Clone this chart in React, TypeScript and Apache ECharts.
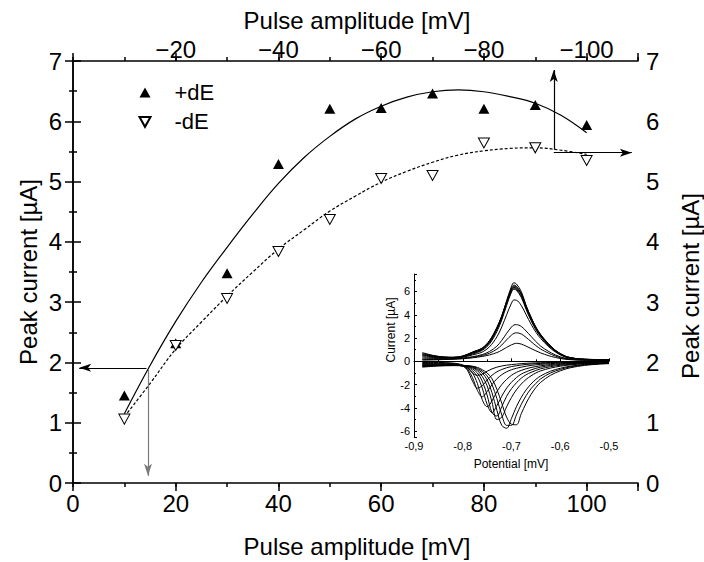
import React, { useEffect, useRef } from 'react';
import * as echarts from 'echarts';

// ---------- main chart data ----------
const AMPLITUDE = [10, 20, 30, 40, 50, 60, 70, 80, 90, 100];
const PLUS_DE = [1.45, 2.32, 3.48, 5.29, 6.21, 6.22, 6.46, 6.21, 6.27, 5.94];
const MINUS_DE = [1.06, 2.28, 3.06, 3.84, 4.37, 5.05, 5.1, 5.64, 5.56, 5.35];

const FIT_X = [10, 15, 20, 25, 30, 35, 40, 45, 50, 55, 60, 65, 70, 75, 80, 85, 90, 95, 100];
const FIT_PLUS = [1.15, 1.95, 2.68, 3.33, 3.91, 4.46, 4.97, 5.4, 5.75, 6.04, 6.25, 6.4, 6.49, 6.52, 6.49, 6.41, 6.3, 6.1, 5.81];
const FIT_MINUS = [1.1, 1.65, 2.22, 2.67, 3.1, 3.5, 3.88, 4.2, 4.51, 4.76, 4.99, 5.17, 5.32, 5.44, 5.51, 5.55, 5.56, 5.52, 5.45];

const X_TICKS_MAJOR = [0, 20, 40, 60, 80, 100];
const TOP_TICK_LABELS = ['\u221220', '\u221240', '\u221260', '\u221280', '\u2212100'];

// annotation arrows [x1, y1, x2, y2] in data units (end = arrow head)
const ARROW_LEFT = [14.3, 1.91, 1.2, 1.91];
const ARROW_DOWN = [14.6, 1.88, 14.6, 0.12];
const ARROW_UP = [93.6, 5.53, 93.6, 6.85];
const ARROW_RIGHT = [93.6, 5.48, 108.8, 5.48];

// ---------- inset data ----------
const POT_OX = [-0.883, -0.86, -0.84, -0.82, -0.8, -0.78, -0.76, -0.745, -0.73, -0.72, -0.71, -0.7, -0.695, -0.69, -0.68, -0.67, -0.66, -0.65, -0.64, -0.625, -0.61, -0.59, -0.57, -0.55, -0.52, -0.5];
const OX_1 = [0.1, 0.12, 0.15, 0.18, 0.22, 0.3, 0.42, 0.55, 0.75, 0.95, 1.2, 1.42, 1.5, 1.55, 1.48, 1.3, 1.1, 0.9, 0.72, 0.5, 0.33, 0.18, 0.12, 0.1, 0.1, 0.1];
const OX_2 = [0.15, 0.16, 0.18, 0.2, 0.25, 0.35, 0.5, 0.7, 1.05, 1.4, 1.85, 2.25, 2.4, 2.45, 2.35, 2.05, 1.7, 1.35, 1.05, 0.72, 0.45, 0.22, 0.14, 0.11, 0.1, 0.1];
const OX_3 = [0.2, 0.2, 0.2, 0.22, 0.28, 0.4, 0.58, 0.85, 1.3, 1.8, 2.4, 2.95, 3.12, 3.15, 3.0, 2.6, 2.15, 1.7, 1.3, 0.88, 0.55, 0.26, 0.15, 0.12, 0.11, 0.1];
const OX_4 = [0.3, 0.26, 0.25, 0.27, 0.35, 0.55, 0.8, 1.25, 2.1, 2.95, 4.0, 5.0, 5.27, 5.25, 4.8, 4.0, 3.2, 2.5, 1.95, 1.3, 0.8, 0.36, 0.2, 0.14, 0.12, 0.12];
const OX_5 = [0.4, 0.33, 0.3, 0.3, 0.38, 0.62, 0.95, 1.5, 2.55, 3.55, 4.8, 5.95, 6.2, 6.1, 5.5, 4.45, 3.5, 2.7, 2.1, 1.4, 0.86, 0.4, 0.22, 0.16, 0.13, 0.12];
const OX_6 = [0.5, 0.38, 0.32, 0.31, 0.4, 0.68, 1.0, 1.6, 2.7, 3.7, 4.95, 6.05, 6.3, 6.2, 5.6, 4.55, 3.6, 2.8, 2.15, 1.45, 0.88, 0.42, 0.23, 0.16, 0.13, 0.12];
const OX_7 = [0.55, 0.42, 0.34, 0.32, 0.42, 0.72, 1.05, 1.65, 2.8, 3.8, 5.1, 6.3, 6.55, 6.45, 5.8, 4.7, 3.7, 2.85, 2.2, 1.5, 0.9, 0.43, 0.24, 0.17, 0.14, 0.13];
const OX_8 = [0.6, 0.45, 0.36, 0.33, 0.44, 0.76, 1.1, 1.7, 2.85, 3.85, 5.05, 6.1, 6.35, 6.3, 5.75, 4.7, 3.72, 2.88, 2.22, 1.52, 0.92, 0.44, 0.25, 0.17, 0.14, 0.13];
const OX_9 = [0.68, 0.48, 0.37, 0.34, 0.45, 0.78, 1.13, 1.75, 2.9, 3.9, 5.15, 6.2, 6.45, 6.4, 5.85, 4.75, 3.78, 2.92, 2.26, 1.54, 0.94, 0.45, 0.25, 0.18, 0.15, 0.14];
const OX_10 = [0.75, 0.5, 0.38, 0.35, 0.45, 0.8, 1.15, 1.8, 2.9, 3.9, 5.2, 6.45, 6.75, 6.65, 6.0, 4.8, 3.8, 2.95, 2.3, 1.55, 0.95, 0.45, 0.25, 0.18, 0.15, 0.14];

const POT_RED = [-0.883, -0.85, -0.82, -0.8, -0.79, -0.78, -0.77, -0.76, -0.75, -0.74, -0.73, -0.72, -0.71, -0.7, -0.69, -0.68, -0.67, -0.66, -0.65, -0.64, -0.62, -0.6, -0.58, -0.55, -0.52, -0.5];
const RED_1 = [-0.1, -0.1, -0.15, -0.3, -0.55, -1.0, -1.2, -1.1, -0.85, -0.65, -0.5, -0.4, -0.33, -0.28, -0.24, -0.2, -0.17, -0.15, -0.13, -0.12, -0.1, -0.08, -0.07, -0.06, -0.05, -0.05];
const RED_2 = [-0.15, -0.15, -0.2, -0.4, -0.8, -1.7, -2.3, -2.1, -1.6, -1.2, -0.9, -0.7, -0.55, -0.45, -0.38, -0.32, -0.27, -0.23, -0.2, -0.18, -0.14, -0.11, -0.09, -0.07, -0.06, -0.05];
const RED_3 = [-0.2, -0.2, -0.25, -0.4, -0.7, -1.4, -2.5, -3.05, -2.6, -2.0, -1.5, -1.15, -0.9, -0.72, -0.6, -0.5, -0.42, -0.35, -0.3, -0.26, -0.2, -0.15, -0.12, -0.09, -0.07, -0.06];
const RED_4 = [-0.25, -0.25, -0.3, -0.4, -0.6, -1.0, -1.9, -3.3, -3.9, -3.4, -2.6, -2.0, -1.55, -1.2, -0.95, -0.78, -0.64, -0.53, -0.45, -0.38, -0.28, -0.21, -0.16, -0.12, -0.09, -0.08];
const RED_5 = [-0.3, -0.3, -0.32, -0.4, -0.5, -0.8, -1.3, -2.3, -3.7, -4.4, -3.8, -3.0, -2.3, -1.8, -1.4, -1.1, -0.9, -0.74, -0.6, -0.5, -0.36, -0.27, -0.2, -0.15, -0.11, -0.1];
const RED_6 = [-0.33, -0.32, -0.33, -0.38, -0.45, -0.65, -1.0, -1.7, -2.9, -4.4, -4.7, -3.9, -3.0, -2.35, -1.85, -1.45, -1.15, -0.95, -0.78, -0.64, -0.46, -0.34, -0.26, -0.18, -0.14, -0.12];
const RED_7 = [-0.36, -0.34, -0.34, -0.37, -0.42, -0.55, -0.8, -1.3, -2.1, -3.5, -5.0, -4.8, -3.9, -3.1, -2.45, -1.95, -1.55, -1.25, -1.0, -0.82, -0.58, -0.42, -0.31, -0.21, -0.16, -0.14];
const RED_8 = [-0.4, -0.36, -0.35, -0.37, -0.4, -0.5, -0.7, -1.0, -1.6, -2.7, -4.2, -5.5, -5.75, -4.9, -3.9, -3.1, -2.45, -1.95, -1.55, -1.25, -0.85, -0.6, -0.42, -0.27, -0.19, -0.16];
const RED_9 = [-0.45, -0.38, -0.36, -0.37, -0.39, -0.45, -0.6, -0.85, -1.25, -2.0, -3.2, -4.6, -5.5, -5.5, -4.6, -3.7, -2.95, -2.35, -1.9, -1.5, -1.0, -0.7, -0.48, -0.3, -0.21, -0.18];
const RED_10 = [-0.5, -0.4, -0.37, -0.37, -0.38, -0.42, -0.52, -0.72, -1.0, -1.5, -2.4, -3.6, -4.8, -5.4, -5.45, -4.5, -3.6, -2.85, -2.25, -1.8, -1.2, -0.82, -0.56, -0.35, -0.24, -0.2];

const OX_CURVES = [OX_1, OX_2, OX_3, OX_4, OX_5, OX_6, OX_7, OX_8, OX_9, OX_10];
const RED_CURVES = [RED_1, RED_2, RED_3, RED_4, RED_5, RED_6, RED_7, RED_8, RED_9, RED_10];

const FONT = "'Liberation Sans', Arial, Helvetica, sans-serif";
const BLACK = '#000';

function zip(xs: number[], ys: number[]) {
  return xs.map((x, i) => [x, ys[i]]);
}

function arrowItem(a: number[], color: string) {
  return [
    { coord: [a[0], a[1]], lineStyle: { color, width: 1.2, type: 'solid' }, itemStyle: { color } },
    { coord: [a[2], a[3]] },
  ];
}

function buildOption(): any {
  const mainAxisCommon = {
    gridIndex: 0,
    min: 0,
    max: 110,
    splitLine: { show: false },
  };
  const insetSeries: any[] = [];
  OX_CURVES.forEach((c, i) =>
    insetSeries.push({
      type: 'line',
      name: 'ox' + i,
      xAxisIndex: 4,
      yAxisIndex: 2,
      data: zip(POT_OX, c),
      smooth: 0.35,
      showSymbol: false,
      symbol: 'none',
      lineStyle: { color: BLACK, width: 1 },
      silent: true,
    })
  );
  RED_CURVES.forEach((c, i) =>
    insetSeries.push({
      type: 'line',
      name: 'red' + i,
      xAxisIndex: 4,
      yAxisIndex: 2,
      data: zip(POT_RED, c),
      smooth: 0.35,
      showSymbol: false,
      symbol: 'none',
      lineStyle: { color: BLACK, width: 1 },
      silent: true,
    })
  );

  return {
    animation: false,
    backgroundColor: '#fff',
    textStyle: { fontFamily: FONT, color: BLACK },
    grid: [
      { left: 73, top: 61, width: 565, height: 422 },
      { left: 414, top: 274, width: 195, height: 163 },
    ],
    legend: {
      data: ['+dE', '-dE'],
      orient: 'vertical',
      left: 138.5,
      top: 81.5,
      padding: 0,
      itemWidth: 11,
      itemHeight: 10,
      itemGap: 7.4,
      textStyle: { fontSize: 22, fontFamily: FONT, color: BLACK, lineHeight: 22, padding: [0, 0, 0, 19] },
      selectedMode: false,
    },
    xAxis: [
      {
        ...mainAxisCommon,
        type: 'value',
        position: 'bottom',
        interval: 20,
        axisLine: { lineStyle: { color: BLACK, width: 1.5 } },
        axisTick: { length: 8, lineStyle: { color: BLACK, width: 1.5 } },
        axisLabel: {
          fontSize: 24,
          color: BLACK,
          fontFamily: FONT,
          margin: 8,
          formatter: (v: number) => (X_TICKS_MAJOR.indexOf(v) >= 0 ? String(v) : ''),
        },
      },
      {
        ...mainAxisCommon,
        type: 'value',
        position: 'bottom',
        interval: 10,
        axisLine: { show: false },
        axisTick: { length: 4, lineStyle: { color: BLACK, width: 1.5 } },
        axisLabel: { show: false },
      },
      {
        ...mainAxisCommon,
        type: 'value',
        position: 'top',
        interval: 20,
        axisLine: { lineStyle: { color: BLACK, width: 1.5 } },
        axisTick: { length: 8, lineStyle: { color: BLACK, width: 1.5 } },
        axisLabel: {
          fontSize: 24,
          color: BLACK,
          fontFamily: FONT,
          margin: 0,
          formatter: (v: number) => {
            const i = X_TICKS_MAJOR.indexOf(v);
            return i > 0 ? TOP_TICK_LABELS[i - 1] : '';
          },
        },
      },
      {
        ...mainAxisCommon,
        type: 'value',
        position: 'top',
        interval: 10,
        axisLine: { show: false },
        axisTick: { length: 4, lineStyle: { color: BLACK, width: 1.5 } },
        axisLabel: { show: false },
      },
      {
        gridIndex: 1,
        type: 'value',
        min: -0.9,
        max: -0.5,
        interval: 0.1,
        splitLine: { show: false },
        axisLine: { lineStyle: { color: BLACK, width: 1 } },
        axisTick: { inside: true, length: 3, lineStyle: { color: BLACK, width: 1 } },
        minorTick: { show: true, splitNumber: 2, length: 2, lineStyle: { color: BLACK, width: 1 } },
        axisLabel: {
          fontSize: 11,
          color: BLACK,
          fontFamily: FONT,
          margin: 3,
          formatter: (v: number) => v.toFixed(1).replace('.', ','),
        },
      },
    ],
    yAxis: [
      {
        gridIndex: 0,
        type: 'value',
        position: 'left',
        min: 0,
        max: 7,
        interval: 1,
        splitLine: { show: false },
        axisLine: { lineStyle: { color: BLACK, width: 1.5 } },
        axisTick: { length: 8, lineStyle: { color: BLACK, width: 1.5 } },
        minorTick: { show: true, splitNumber: 2, length: 4, lineStyle: { color: BLACK, width: 1.5 } },
        axisLabel: { fontSize: 24, color: BLACK, fontFamily: FONT, margin: 11 },
      },
      {
        gridIndex: 0,
        type: 'value',
        position: 'right',
        min: 0,
        max: 7,
        interval: 1,
        splitLine: { show: false },
        axisLine: { lineStyle: { color: BLACK, width: 1.5 } },
        axisTick: { length: 8, lineStyle: { color: BLACK, width: 1.5 } },
        minorTick: { show: true, splitNumber: 2, length: 4, lineStyle: { color: BLACK, width: 1.5 } },
        axisLabel: { fontSize: 24, color: BLACK, fontFamily: FONT, margin: 8 },
      },
      {
        gridIndex: 1,
        type: 'value',
        position: 'left',
        min: -6.5,
        max: 7.5,
        splitNumber: 7,
        splitLine: { show: false },
        axisLine: { lineStyle: { color: BLACK, width: 1 } },
        axisTick: { inside: true, length: 3, lineStyle: { color: BLACK, width: 1 } },
        axisLabel: {
          fontSize: 11,
          color: BLACK,
          fontFamily: FONT,
          margin: 4,
          formatter: (v: number) => {
            const r = Math.round(v);
            return Math.abs(v - r) < 1e-6 && r % 2 === 0 ? String(r) : '';
          },
        },
      },
      {
        gridIndex: 1,
        type: 'value',
        position: 'left',
        min: -6.5,
        max: 7.5,
        splitNumber: 14,
        splitLine: { show: false },
        axisLine: { show: false },
        axisTick: { inside: true, length: 2, lineStyle: { color: BLACK, width: 1 } },
        axisLabel: { show: false },
      },
    ],
    graphic: [
      {
        type: 'text',
        x: 357,
        y: 20,
        style: { text: 'Pulse amplitude [mV]', font: `24px ${FONT}`, fill: BLACK, align: 'center', verticalAlign: 'middle' },
      },
      {
        type: 'text',
        x: 357,
        y: 546,
        style: { text: 'Pulse amplitude [mV]', font: `24px ${FONT}`, fill: BLACK, align: 'center', verticalAlign: 'middle' },
      },
      {
        type: 'text',
        x: 28,
        y: 272,
        rotation: Math.PI / 2,
        style: { text: 'Peak current [\u00b5A]', font: `24px ${FONT}`, fill: BLACK, align: 'center', verticalAlign: 'middle' },
      },
      {
        type: 'text',
        x: 690,
        y: 286,
        rotation: Math.PI / 2,
        style: { text: 'Peak current [\u00b5A]', font: `24px ${FONT}`, fill: BLACK, align: 'center', verticalAlign: 'middle' },
      },
      {
        type: 'text',
        x: 391,
        y: 330,
        rotation: Math.PI / 2,
        style: { text: 'Current [\u00b5A]', font: `12px ${FONT}`, fill: BLACK, align: 'center', verticalAlign: 'middle' },
      },
      {
        type: 'text',
        x: 511,
        y: 464,
        style: { text: 'Potential [mV]', font: `12px ${FONT}`, fill: BLACK, align: 'center', verticalAlign: 'middle' },
      },
    ],
    series: [
      {
        type: 'line',
        name: 'fit+',
        xAxisIndex: 0,
        yAxisIndex: 0,
        data: zip(FIT_X, FIT_PLUS),
        smooth: 0.4,
        showSymbol: false,
        symbol: 'none',
        lineStyle: { color: BLACK, width: 1.2 },
        silent: true,
        z: 3,
        markLine: {
          silent: true,
          symbol: ['none', 'arrow'],
          symbolSize: [6, 12],
          label: { show: false },
          data: [
            arrowItem(ARROW_LEFT, BLACK),
            arrowItem(ARROW_DOWN, '#7a7a7a'),
            arrowItem(ARROW_UP, BLACK),
            arrowItem(ARROW_RIGHT, BLACK),
          ],
        },
      },
      {
        type: 'line',
        name: 'fit-',
        xAxisIndex: 0,
        yAxisIndex: 0,
        data: zip(FIT_X, FIT_MINUS),
        smooth: 0.4,
        showSymbol: false,
        symbol: 'none',
        lineStyle: { color: BLACK, width: 1.2, type: [3, 2] },
        silent: true,
        z: 3,
      },
      {
        type: 'scatter',
        name: '+dE',
        xAxisIndex: 0,
        yAxisIndex: 0,
        data: zip(AMPLITUDE, PLUS_DE),
        symbol: 'triangle',
        symbolSize: [11, 10],
        itemStyle: { color: BLACK, opacity: 1 },
        z: 5,
      },
      {
        type: 'scatter',
        name: '-dE',
        xAxisIndex: 0,
        yAxisIndex: 0,
        data: zip(AMPLITUDE, MINUS_DE),
        symbol: 'path://M0,0 L10,0 L5,9 Z',
        symbolSize: [11, 10],
        itemStyle: { color: '#fff', borderColor: BLACK, borderWidth: 1, opacity: 1 },
        z: 5,
      },
      ...insetSeries,
    ],
  };
}

export default function App() {
  const ref = useRef<HTMLDivElement>(null);
  useEffect(() => {
    if (!ref.current) return;
    const chart = echarts.init(ref.current, null, { renderer: 'svg' });
    chart.setOption(buildOption());
    return () => chart.dispose();
  }, []);
  return (
    <div
      ref={ref}
      style={{ position: 'absolute', left: 0, top: 0, width: 704, height: 562, background: '#fff' }}
    />
  );
}
